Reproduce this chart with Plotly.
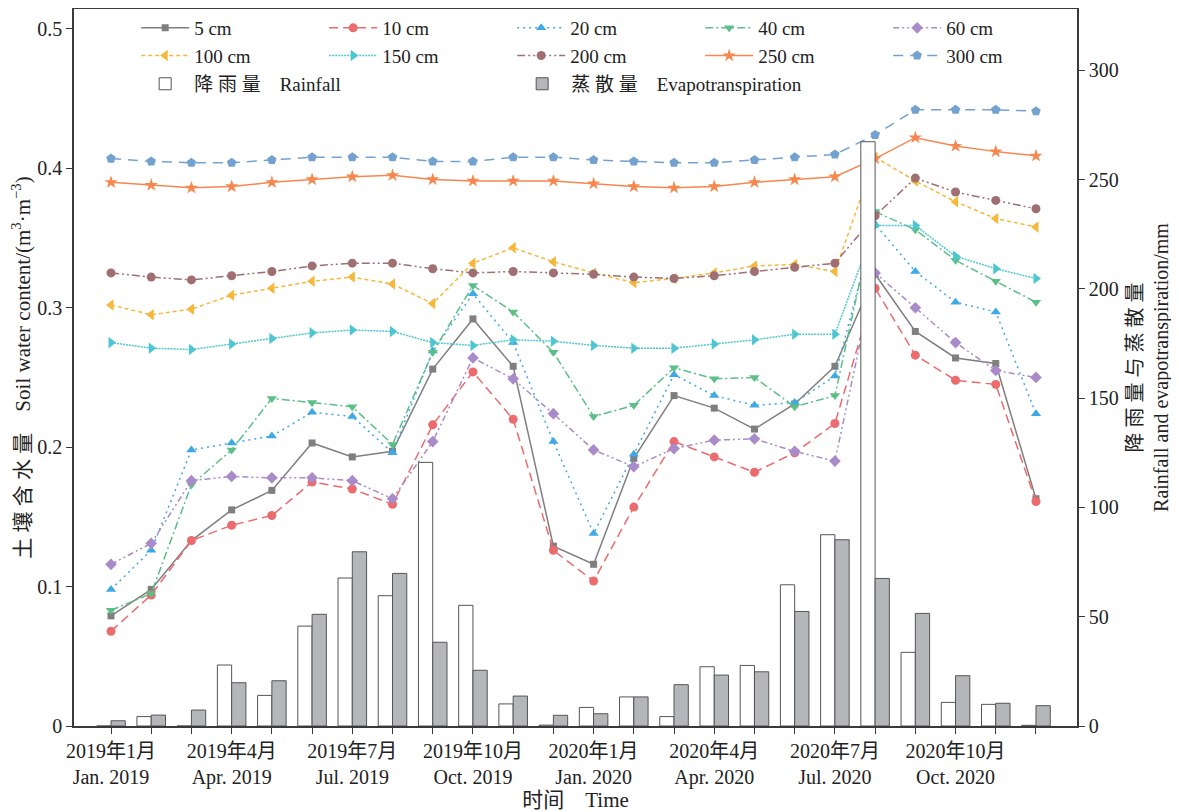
import plotly.graph_objects as go

# ---------------- data ----------------
months = list(range(24))  # Jan 2019 ... Dec 2020
tick_labels = ["2019年1月<br>Jan. 2019", "", "", "2019年4月<br>Apr. 2019", "", "",
               "2019年7月<br>Jul. 2019", "", "", "2019年10月<br>Oct. 2019", "", "",
               "2020年1月<br>Jan. 2020", "", "", "2020年4月<br>Apr. 2020", "", "",
               "2020年7月<br>Jul. 2020", "", "", "2020年10月<br>Oct. 2020", "", ""]

sw_5 = [0.079, 0.098, 0.133, 0.155, 0.169, 0.203, 0.193, 0.197, 0.256, 0.292, 0.258, 0.129,
        0.116, 0.192, 0.237, 0.228, 0.213, 0.231, 0.258, 0.324, 0.283, 0.264, 0.260, 0.163]
sw_10 = [0.068, 0.094, 0.133, 0.144, 0.151, 0.175, 0.170, 0.159, 0.216, 0.254, 0.220, 0.126,
         0.104, 0.157, 0.204, 0.193, 0.182, 0.196, 0.217, 0.314, 0.266, 0.248, 0.245, 0.161]
sw_20 = [0.098, 0.126, 0.198, 0.203, 0.208, 0.225, 0.222, 0.196, 0.269, 0.310, 0.275, 0.204,
         0.138, 0.195, 0.252, 0.237, 0.230, 0.232, 0.251, 0.360, 0.326, 0.304, 0.297, 0.224]
sw_40 = [0.083, 0.095, 0.173, 0.198, 0.235, 0.232, 0.229, 0.202, 0.268, 0.316, 0.297, 0.268,
         0.222, 0.230, 0.257, 0.249, 0.250, 0.229, 0.237, 0.369, 0.356, 0.334, 0.319, 0.304]
sw_60 = [0.116, 0.131, 0.176, 0.179, 0.178, 0.178, 0.176, 0.163, 0.204, 0.264, 0.249, 0.224,
         0.198, 0.186, 0.199, 0.205, 0.206, 0.197, 0.190, 0.325, 0.300, 0.275, 0.255, 0.250]
sw_100 = [0.302, 0.295, 0.299, 0.309, 0.314, 0.319, 0.322, 0.317, 0.303, 0.332, 0.343, 0.333,
          0.325, 0.318, 0.321, 0.325, 0.330, 0.331, 0.326, 0.408, 0.391, 0.376, 0.364, 0.358]
sw_150 = [0.275, 0.271, 0.270, 0.274, 0.278, 0.282, 0.284, 0.283, 0.275, 0.273, 0.277, 0.276,
          0.273, 0.271, 0.271, 0.274, 0.277, 0.281, 0.281, 0.359, 0.359, 0.337, 0.328, 0.321]
sw_200 = [0.325, 0.322, 0.320, 0.323, 0.326, 0.330, 0.332, 0.332, 0.328, 0.325, 0.326, 0.325,
          0.324, 0.322, 0.321, 0.323, 0.326, 0.329, 0.332, 0.366, 0.393, 0.383, 0.377, 0.371]
sw_250 = [0.390, 0.388, 0.386, 0.387, 0.390, 0.392, 0.394, 0.395, 0.392, 0.391, 0.391, 0.391,
          0.389, 0.387, 0.386, 0.387, 0.390, 0.392, 0.394, 0.407, 0.422, 0.416, 0.412, 0.409]
sw_300 = [0.407, 0.405, 0.404, 0.404, 0.406, 0.408, 0.408, 0.408, 0.405, 0.405, 0.408, 0.408,
          0.406, 0.405, 0.404, 0.404, 0.406, 0.408, 0.410, 0.424, 0.442, 0.442, 0.442, 0.441]

rainfall = [0, 4.3, 0, 27.9, 14.0, 45.7, 67.7, 59.6, 120.6, 55.2, 10.1, 0.4,
            8.5, 13.3, 4.3, 27.1, 27.7, 64.6, 87.5, 267.3, 33.7, 10.8, 9.9, 0.3]
evapotranspiration = [2.4, 5.0, 7.3, 19.8, 20.7, 51.1, 79.7, 69.8, 38.3, 25.5, 13.7, 4.9,
                      5.6, 13.3, 18.9, 23.3, 24.8, 52.4, 85.2, 67.5, 51.5, 23.0, 10.4, 9.3]

depth_names = ["5 cm", "10 cm", "20 cm", "40 cm", "60 cm",
               "100 cm", "150 cm", "200 cm", "250 cm", "300 cm"]
depth_series = [sw_5, sw_10, sw_20, sw_40, sw_60, sw_100, sw_150, sw_200, sw_250, sw_300]

# ---------------- styles ----------------
colors = ["#7f7f7f", "#eb6b6e", "#3ea9e6", "#5cbf88", "#a98bc9",
          "#f5b83a", "#4ec6d1", "#a06f72", "#f6874e", "#73a2d1"]
dashes = ["solid", "9px,5px", "2px,4px", "8px,3px,2px,3px", "6px,3px,2px,3px,2px,3px",
          "4px,3px", "2px,1px", "8px,3px,2px,3px,2px,3px", "solid", "10px,7px"]
symbols = ["square", "circle", "triangle-up", "triangle-down", "diamond",
           "triangle-left", "triangle-right", "circle", "star", "pentagon"]
msizes = [7, 9, 9, 9, 9, 10, 10, 9, 10, 10]

FONT = "Liberation Serif, 'Times New Roman', 'Noto Sans CJK SC', serif"

fig = go.Figure()

for name, ys, c, d, s, ms in zip(depth_names, depth_series, colors, dashes, symbols, msizes):
    fig.add_trace(go.Scatter(
        x=months, y=ys, name=name, mode="lines+markers",
        line=dict(color=c, width=1.5, dash=d),
        marker=dict(symbol=s, size=ms, color=c),
        yaxis="y", legend="legend",
    ))

bar_w = 0.355
fig.add_trace(go.Bar(
    x=months, y=rainfall, name="降 雨 量　Rainfall",
    width=bar_w, offset=-bar_w,
    marker=dict(color="white", line=dict(color="#555555", width=1)),
    yaxis="y2", legend="legend2",
))
fig.add_trace(go.Bar(
    x=months, y=evapotranspiration, name="蒸 散 量　Evapotranspiration",
    width=bar_w, offset=0,
    marker=dict(color="#b5b6ba", line=dict(color="#555555", width=1)),
    yaxis="y2", legend="legend2",
))

axis_color = "#3a3a3a"
fig.update_layout(
    width=1171, height=804,
    margin=dict(l=66, r=102, t=1, b=86, autoexpand=False),
    paper_bgcolor="white", plot_bgcolor="white",
    font=dict(family=FONT, size=20, color="#222222"),
    barmode="overlay",
    xaxis=dict(
        range=[-0.92, 24.02],
        tickmode="array", tickvals=months, ticktext=tick_labels,
        ticks="outside", ticklen=6, tickcolor=axis_color,
        showline=True, linecolor=axis_color, linewidth=1.5, mirror=True,
        showgrid=False, zeroline=False,
        tickfont=dict(size=20),
        title=dict(text="时间　Time", font=dict(size=21), standoff=9),
    ),
    yaxis=dict(
        range=[0, 0.5143],
        tickvals=[0, 0.1, 0.2, 0.3, 0.4, 0.5],
        ticktext=["0", "0.1", "0.2", "0.3", "0.4", "0.5"],
        ticks="outside", ticklen=6, tickcolor=axis_color,
        showline=True, linecolor=axis_color, linewidth=1.5,
        showgrid=False, zeroline=False,
        tickfont=dict(size=20),
        title=dict(text="土 壤 含 水 量　Soil water content/(m<sup>3</sup>·m<sup>−3</sup>)",
                   font=dict(size=21), standoff=4),
    ),
    yaxis2=dict(
        range=[0, 328], overlaying="y", side="right",
        tickvals=[0, 50, 100, 150, 200, 250, 300],
        ticks="outside", ticklen=6, tickcolor=axis_color,
        showline=True, linecolor=axis_color, linewidth=1.5,
        showgrid=False, zeroline=False,
        tickfont=dict(size=20),
        title=dict(text="降 雨 量 与 蒸 散 量<br>Rainfall and evapotranspiration/mm",
                   font=dict(size=20), standoff=10),
    ),
    legend=dict(
        orientation="h", x=0.062, y=1.0, xanchor="left", yanchor="top",
        entrywidth=125, entrywidthmode="pixels",
        bgcolor="rgba(0,0,0,0)", font=dict(size=19), itemwidth=48,
        tracegroupgap=0,
    ),
    legend2=dict(
        orientation="h", x=0.062, y=0.922, xanchor="left", yanchor="top",
        entrywidth=314, entrywidthmode="pixels",
        bgcolor="rgba(0,0,0,0)", font=dict(size=19), itemwidth=48,
    ),
    showlegend=True,
)

fig.write_html("out.html")
